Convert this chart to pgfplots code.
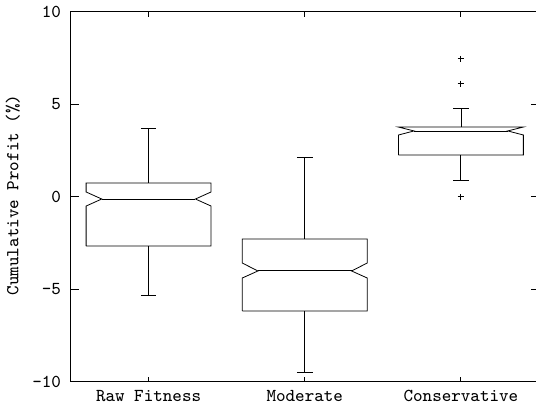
\documentclass[border=0pt]{standalone}
\usepackage{fontspec}
\setmainfont{Latin Modern Mono}
\usepackage{pgfplots}
\pgfplotsset{compat=1.18}
\begin{document}
\fontsize{9.1}{11}\selectfont
\begin{tikzpicture}
\begin{axis}[
  scale only axis,
  width=234.25pt, height=185pt,
  xmin=0.5, xmax=3.5, ymin=-10, ymax=10,
  xtick={1,2,3},
  xticklabels={Raw Fitness, Moderate, Conservative},
  ytick={-10,-5,0,5,10},
  yticklabels={-10,-5,0,5,10},
  tick align=inside,
  xtick style={/pgfplots/major tick length=2.5pt, line width=0.5pt, black},
  ytick style={/pgfplots/major tick length=4pt, line width=0.5pt, black},
  axis line style={line width=0.5pt, black},
  ylabel={Cumulative Profit (\%)},
  ylabel style={font=\fontsize{9.1}{11}\selectfont, xshift=1pt},
  ticklabel style={font=\fontsize{9.1}{11}\selectfont},
  yticklabel style={xshift=-1.5pt},
  xticklabel style={yshift=-1pt},
  clip=false,
  cycle list={{black, solid, no markers, line width=0.5pt}},
]
% Raw Fitness
\addplot coordinates {(0.6,-2.65) (0.6,-0.49) (0.7,-0.11) (0.6,0.27) (0.6,0.76) (1.4,0.76) (1.4,0.27) (1.3,-0.11) (1.4,-0.49) (1.4,-2.65) (0.6,-2.65)};
\addplot coordinates {(0.7,-0.11) (1.3,-0.11)};
\addplot coordinates {(1,0.76) (1,3.68)};
\addplot coordinates {(1,-2.65) (1,-5.3)};
\addplot coordinates {(0.95,3.68) (1.05,3.68)};
\addplot coordinates {(0.95,-5.3) (1.05,-5.3)};
% Moderate
\addplot coordinates {(1.6,-6.16) (1.6,-4.38) (1.7,-4.0) (1.6,-3.57) (1.6,-2.27) (2.4,-2.27) (2.4,-3.57) (2.3,-4.0) (2.4,-4.38) (2.4,-6.16) (1.6,-6.16)};
\addplot coordinates {(1.7,-4.0) (2.3,-4.0)};
\addplot coordinates {(2,-2.27) (2,2.16)};
\addplot coordinates {(2,-6.16) (2,-9.51)};
\addplot coordinates {(1.95,2.16) (2.05,2.16)};
\addplot coordinates {(1.95,-9.51) (2.05,-9.51)};
% Conservative
\addplot coordinates {(2.6,2.27) (2.6,3.35) (2.7,3.57) (2.6,3.78) (3.4,3.78) (3.3,3.57) (3.4,3.35) (3.4,2.27) (2.6,2.27)};
\addplot coordinates {(2.7,3.57) (3.3,3.57)};
\addplot coordinates {(3,3.78) (3,4.81)};
\addplot coordinates {(3,2.27) (3,0.92)};
\addplot coordinates {(2.95,4.81) (3.05,4.81)};
\addplot coordinates {(2.95,0.92) (3.05,0.92)};
\addplot[only marks, mark=+, mark size=1.6pt, line width=0.5pt, black] coordinates {(3,7.46) (3,6.11) (3,0.0)};
\coordinate (bbSW) at (rel axis cs:-0.1505,-0.073);
\coordinate (bbNE) at (rel axis cs:0.9936,1.0324);
\end{axis}
\pgfresetboundingbox
\path[use as bounding box] (bbSW) rectangle (bbNE);
\end{tikzpicture}
\end{document}
